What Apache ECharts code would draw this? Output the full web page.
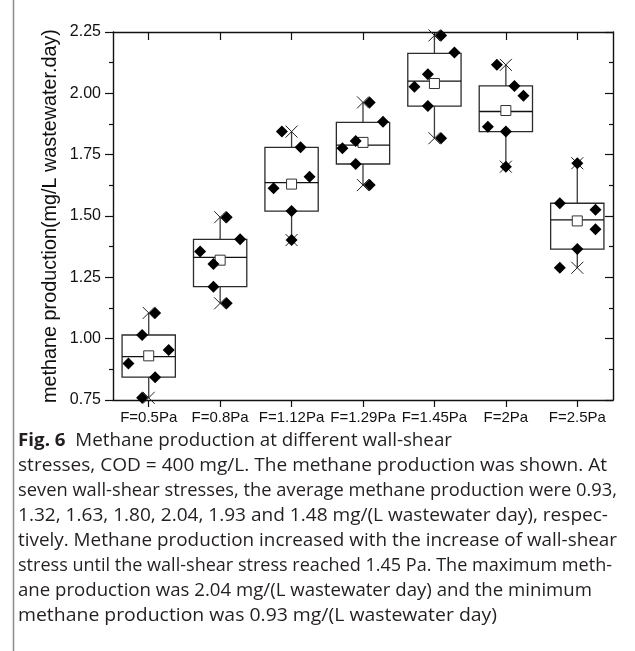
<!DOCTYPE html>
<html>
<head>
<meta charset="utf-8">
<script src="https://cdn.jsdelivr.net/npm/echarts@6/dist/echarts.min.js"></script>
<style>
  html, body { margin: 0; padding: 0; background: #fff; }
  #chart { width: 635px; height: 651px; }
</style>
</head>
<body>
<div id="chart"></div>
<script>
// Wall-shear stress groups
const categories = ['F=0.5Pa', 'F=0.8Pa', 'F=1.12Pa', 'F=1.29Pa', 'F=1.45Pa', 'F=2Pa', 'F=2.5Pa'];

// Replicate methane production, mg/(L wastewater day), highest first
const replicates = [
  [1.105, 1.015, 0.954, 0.899, 0.843, 0.759],
  [1.495, 1.405, 1.355, 1.304, 1.212, 1.144],
  [1.844, 1.780, 1.660, 1.613, 1.520, 1.402],
  [1.963, 1.884, 1.806, 1.776, 1.712, 1.626],
  [2.236, 2.166, 2.078, 2.027, 1.948, 1.817],
  [2.116, 2.030, 1.990, 1.864, 1.844, 1.701],
  [1.715, 1.552, 1.525, 1.446, 1.365, 1.289]
];

// Horizontal jitter of each replicate marker, in category widths
const jitter = [
  [0.090, -0.092, 0.280, -0.284, 0.090, -0.092],
  [0.092, 0.280, -0.280, -0.094, -0.094, 0.092],
  [-0.136, 0.126, 0.252, -0.252, 0, 0],
  [0.094, 0.280, -0.102, -0.288, -0.102, 0.094],
  [0.094, 0.280, -0.092, -0.280, -0.092, 0.094],
  [-0.126, 0.120, 0.246, -0.252, 0, 0],
  [0, -0.245, 0.255, 0.255, 0, -0.245]
];

// Box statistics per group
const boxMin    = [0.759, 1.144, 1.402, 1.626, 1.817, 1.701, 1.289];
const boxQ1     = [0.843, 1.212, 1.520, 1.712, 1.948, 1.844, 1.365];
const boxMedian = [0.927, 1.331, 1.636, 1.789, 2.050, 1.926, 1.484];
const boxQ3     = [1.015, 1.405, 1.780, 1.882, 2.163, 2.030, 1.552];
const boxMax    = [1.105, 1.495, 1.844, 1.963, 2.236, 2.116, 1.715];

// Group means
const means = [0.93, 1.32, 1.63, 1.80, 2.04, 1.93, 1.48];

// Figure caption, one entry per printed line
const captionLines = [
  'Methane production at different wall-shear',
  'stresses, COD = 400 mg/L. The methane production was shown. At',
  'seven wall-shear stresses, the average methane production were 0.93,',
  '1.32, 1.63, 1.80, 2.04, 1.93 and 1.48 mg/(L wastewater day), respec-',
  'tively. Methane production increased with the increase of wall-shear',
  'stress until the wall-shear stress reached 1.45 Pa. The maximum meth-',
  'ane production was 2.04 mg/(L wastewater day) and the minimum',
  'methane production was 0.93 mg/(L wastewater day)'
];
const captionLabel = 'Fig. 6';

// ---- layout ----
const captionLeft = 18;
const captionRight = [452, 607, 617, 608, 617, 612, 592, 497];
const captionTop = 441;
const captionStep = 24.9;
const captionSize = 18.5;
const captionFont = '"Open Sans", "Noto Sans", sans-serif';
const boxHalfWidth = 0.373;
const crossHalf = 6;

const measureCtx = document.createElement('canvas').getContext('2d');
function textWidth(str, weight) {
  measureCtx.font = (weight || 'normal') + ' ' + captionSize + 'px ' + captionFont;
  return measureCtx.measureText(str).width;
}

const captionGraphics = captionLines.map((line, i) => {
  const isFirst = i === 0;
  const body = isFirst ? '  ' + line : line;
  const natural = (isFirst ? textWidth(captionLabel, 'bold') : 0) + textWidth(body);
  const scale = (captionRight[i] - captionLeft) / natural;
  return {
    type: 'text',
    x: captionLeft,
    y: captionTop + i * captionStep,
    scaleX: scale,
    silent: true,
    style: {
      text: isFirst ? '{b|' + captionLabel + '}{r|' + body + '}' : body,
      fontSize: captionSize,
      fontFamily: captionFont,
      fill: '#231f20',
      verticalAlign: 'middle',
      align: 'left',
      rich: {
        b: { fontSize: captionSize, fontFamily: captionFont, fontWeight: 'bold', fill: '#231f20' },
        r: { fontSize: captionSize, fontFamily: captionFont, fill: '#231f20' }
      }
    }
  };
});

const axisColor = '#111';
const axisFont = '"Liberation Sans", Arial, sans-serif';

const boxData = categories.map((_, i) => [i, boxMin[i], boxQ1[i], boxMedian[i], boxQ3[i], boxMax[i]]);
const meanData = means.map((m, i) => [i, m]);
const pointData = [];
replicates.forEach((vals, i) => {
  vals.forEach((v, k) => pointData.push([i + jitter[i][k], v]));
});

const chart = echarts.init(document.getElementById('chart'), null, { renderer: 'canvas' });

chart.setOption({
  animation: false,
  backgroundColor: '#fff',
  grid: { left: 113, right: 22, top: 32, bottom: 251, containLabel: false, outerBoundsMode: 'none' },
  xAxis: [
    {
      type: 'category',
      data: categories,
      position: 'bottom',
      boundaryGap: true,
      axisLine: { show: true, onZero: false, lineStyle: { color: axisColor, width: 1.4 } },
      axisTick: { show: true, alignWithLabel: true, inside: false, length: 7, lineStyle: { color: axisColor, width: 1.2 } },
      axisLabel: { show: true, color: '#111', fontSize: 15, fontFamily: axisFont, margin: 10, interval: 0, hideOverlap: false },
      splitLine: { show: false }
    },
    {
      type: 'category',
      data: categories,
      position: 'top',
      boundaryGap: true,
      axisLine: { show: true, onZero: false, lineStyle: { color: axisColor, width: 1.4 } },
      axisTick: { show: true, alignWithLabel: true, inside: true, length: 8, lineStyle: { color: axisColor, width: 1.2 } },
      axisLabel: { show: false },
      splitLine: { show: false }
    },
    {
      type: 'value',
      min: -0.5,
      max: 6.5,
      show: false,
      splitLine: { show: false }
    }
  ],
  yAxis: [
    {
      type: 'value',
      position: 'left',
      min: 0.75,
      max: 2.25,
      interval: 0.25,
      name: 'methane production(mg/L wastewater.day)',
      nameLocation: 'middle',
      nameGap: 52,
      nameMoveOverlap: false,
      nameTextStyle: { color: '#111', fontSize: 19.8, fontFamily: axisFont },
      axisLine: { show: true, onZero: false, lineStyle: { color: axisColor, width: 1.4 } },
      axisTick: { show: true, inside: false, length: 8, lineStyle: { color: axisColor, width: 1.2 } },
      minorTick: { show: true, splitNumber: 2, length: 4, lineStyle: { color: axisColor, width: 1.2 } },
      axisLabel: {
        show: true, color: '#111', fontSize: 16, fontFamily: axisFont, margin: 12,
        formatter: v => v.toFixed(2)
      },
      splitLine: { show: false },
      minorSplitLine: { show: false }
    },
    {
      type: 'value',
      position: 'right',
      min: 0.75,
      max: 2.25,
      interval: 0.25,
      axisLine: { show: true, onZero: false, lineStyle: { color: axisColor, width: 1.4 } },
      axisTick: { show: true, inside: true, length: 8, lineStyle: { color: axisColor, width: 1.2 } },
      minorTick: { show: true, splitNumber: 2, length: 4, lineStyle: { color: axisColor, width: 1.2 } },
      axisLabel: { show: false },
      splitLine: { show: false },
      minorSplitLine: { show: false }
    }
  ],
  graphic: [
    {
      type: 'line',
      silent: true,
      shape: { x1: 13.5, y1: 0, x2: 13.5, y2: 651 },
      style: { stroke: '#8c8c8c', lineWidth: 1.5 }
    }
  ].concat(captionGraphics),
  series: [
    {
      // boxes, whiskers and min/max crosses
      type: 'custom',
      xAxisIndex: 2,
      yAxisIndex: 0,
      silent: true,
      data: boxData,
      encode: { x: 0, y: [1, 2, 3, 4, 5] },
      renderItem: function (params, api) {
        const x = api.value(0);
        const pMin = api.coord([x, api.value(1)]);
        const pQ1 = api.coord([x, api.value(2)]);
        const pMed = api.coord([x, api.value(3)]);
        const pQ3 = api.coord([x, api.value(4)]);
        const pMax = api.coord([x, api.value(5)]);
        const half = api.size([boxHalfWidth, 0])[0];
        const cx = pMed[0];
        const boxStyle = { stroke: '#2b2b2b', lineWidth: 1.3, fill: 'none' };
        const whiskerStyle = { stroke: '#3a3a3a', lineWidth: 1.3 };
        const crossStyle = { stroke: '#222', lineWidth: 1 };
        const cross = p => [
          { type: 'line', shape: { x1: p[0] - crossHalf, y1: p[1] - crossHalf, x2: p[0] + crossHalf, y2: p[1] + crossHalf }, style: crossStyle },
          { type: 'line', shape: { x1: p[0] - crossHalf, y1: p[1] + crossHalf, x2: p[0] + crossHalf, y2: p[1] - crossHalf }, style: crossStyle }
        ];
        return {
          type: 'group',
          children: [
            { type: 'line', shape: { x1: cx, y1: pQ3[1], x2: cx, y2: pMax[1] }, style: whiskerStyle },
            { type: 'line', shape: { x1: cx, y1: pQ1[1], x2: cx, y2: pMin[1] }, style: whiskerStyle },
            { type: 'rect', shape: { x: cx - half, y: pQ3[1], width: half * 2, height: pQ1[1] - pQ3[1] }, style: boxStyle },
            { type: 'line', shape: { x1: cx - half, y1: pMed[1], x2: cx + half, y2: pMed[1] }, style: { stroke: '#111', lineWidth: 1.3 } }
          ].concat(cross(pMax), cross(pMin))
        };
      },
      z: 2
    },
    {
      // group means
      type: 'scatter',
      xAxisIndex: 2,
      yAxisIndex: 0,
      silent: true,
      data: meanData,
      symbol: 'rect',
      symbolSize: 10,
      itemStyle: { color: '#fff', borderColor: '#333', borderWidth: 1, opacity: 1 },
      z: 3
    },
    {
      // replicate measurements
      type: 'scatter',
      xAxisIndex: 2,
      yAxisIndex: 0,
      silent: true,
      data: pointData,
      symbol: 'diamond',
      symbolSize: 12,
      itemStyle: { color: '#000', opacity: 1 },
      z: 4
    }
  ]
});
</script>
</body>
</html>
